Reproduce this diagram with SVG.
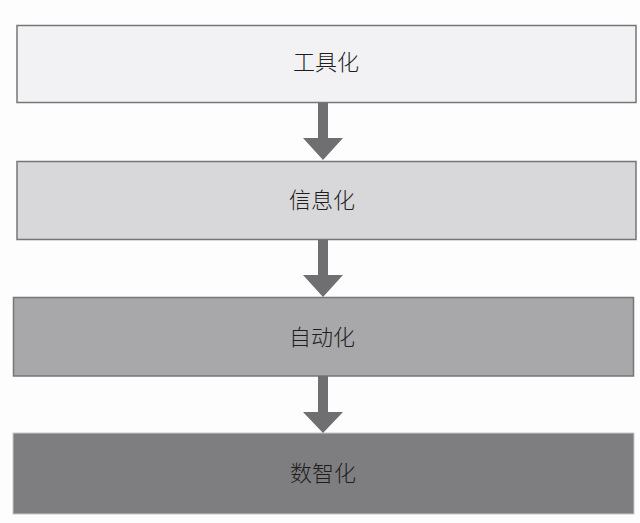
<svg xmlns="http://www.w3.org/2000/svg" width="640" height="523" viewBox="0 0 640 523">
<style>
.box{stroke:#767678;stroke-width:1.5}
.lbl{font-family:"Noto Sans CJK SC","Noto Sans",sans-serif;font-size:22px;font-weight:300;fill:#1e1e1e;text-anchor:middle;dominant-baseline:central}
.arr{fill:#6f6f71}
</style>
<rect width="640" height="523" fill="#fdfdfd"/>
<g id="n1"><rect class="box" x="17" y="25.5" width="619" height="77" fill="#f2f2f4"/><text class="lbl" x="326" y="60">工具化</text></g>
<g id="n2"><rect class="box" x="17" y="161.5" width="619" height="78" fill="#d8d8da"/><text class="lbl" x="322" y="198">信息化</text></g>
<g id="n3"><rect class="box" x="13.5" y="297.5" width="620" height="78.5" fill="#a8a8aa"/><text class="lbl" x="322" y="335">自动化</text></g>
<g id="n4"><rect x="13" y="433" width="621" height="81" fill="#7e7e80" stroke="#c8c8ca" stroke-width="1"/><text class="lbl" x="323" y="471">数智化</text></g>
<g id="connectors">
<path class="arr" d="M318 103H328V138H343L323 160L303 138H318Z"/>
<path class="arr" d="M318 240H328V275H343L323 297L303 275H318Z"/>
<path class="arr" d="M318 376H328V412H343L323 433L303 412H318Z"/>
</g>
</svg>
